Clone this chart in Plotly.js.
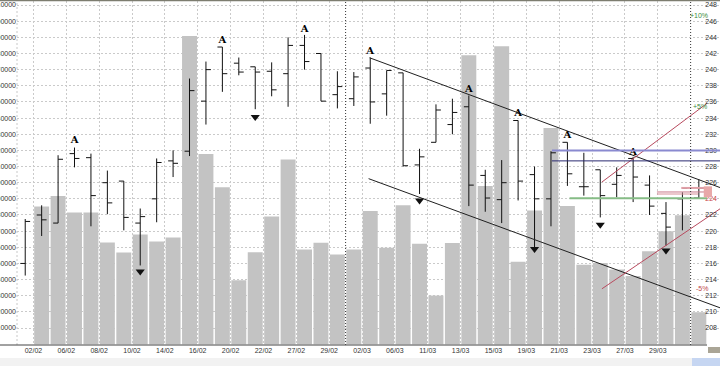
<!DOCTYPE html>
<html>
<head>
<meta charset="utf-8">
<script src="https://cdn.plot.ly/plotly-3.0.1.min.js"></script>
<style>
html,body{margin:0;padding:0;background:#fff;}
#chart{width:720px;height:366px;}
</style>
</head>
<body>
<div id="chart"></div>
<script>
// ---- data ----
const dates = ['02/02','06/02','08/02','10/02','14/02','16/02','20/02','22/02','27/02','29/02',
               '02/03','06/03','11/03','13/03','15/03','19/03','21/03','23/03','27/03','29/03'];

const opens  = [216.0,222.0,221.0,229.6,229.1,226.0,226.2,221.0,224.0,228.7,
                229.9,236.1,242.8,240.8,240.35,239.8,239.5,243.0,242.0,236.9,
                236.4,240.2,237.0,239.6,228.2,231.0,233.2,235.4,226.9,223.9,
                233.7,227.0,224.0,231.0,225.5,227.6,225.8,229.0,225.7,222.2,
                224.0,224.1];
const highs  = [221.5,223.2,229.4,230.35,229.6,227.5,226.2,222.8,229.0,230.0,
                238.9,241.0,242.8,241.5,240.35,240.9,244.0,244.3,242.0,239.8,
                239.7,241.5,239.9,239.6,230.2,235.7,236.4,236.8,227.6,228.8,
                233.7,228.0,229.9,231.0,229.7,227.6,227.9,229.2,226.9,223.6,
                224.8,226.4];
const lows   = [214.5,219.4,221.0,227.9,220.6,222.1,220.1,215.75,221.1,226.7,
                229.3,233.2,237.25,239.3,235.1,236.7,235.4,240.0,236.1,235.2,
                235.5,233.3,234.3,228.0,224.6,231.0,232.0,223.1,222.4,221.0,
                223.8,217.7,220.6,225.6,224.4,221.7,224.2,223.6,222.0,218.2,
                220.1,224.0];
const closes = [221.2,221.4,228.9,229.0,224.4,223.5,221.7,221.8,228.5,228.4,
                237.4,240.0,239.5,239.7,239.7,237.5,243.0,241.0,236.1,237.9,
                239.1,236.0,239.9,228.1,229.2,235.0,234.7,225.7,224.1,226.0,
                226.2,224.0,229.7,227.1,225.5,224.4,226.9,226.7,223.1,220.5,
                225.3,225.3];
const volumes = [null,85300,91700,81600,81600,63000,56800,67900,63600,66100,
                 190900,117700,97100,39600,57000,79100,114400,58600,62800,55500,
                 58600,82400,59700,86100,62200,30100,62600,178900,97900,184500,
                 51000,82800,133800,85500,49200,50200,46200,42300,57600,70000,
                 79900,19800];

const upFractalIdx    = [3,12,17,21,27,30,33,37];
const upFractalPrice  = [231.2,243.6,245.0,242.3,237.55,234.6,231.8,229.8];
const downFractalIdx   = [7,14,24,31,35,39];
const downFractalPrice = [215.0,234.15,223.8,217.8,220.8,217.6];

// analysis lines (day index, price)
const resistX = [20.96, 42.3],  resistY = [241.47, 225.39];
const supportX = [20.9, 42.3],  supportY = [226.5, 210.5];
const chanUpX = [35.1, 41.49],  chanUpY = [226.08, 235.81];
const chanLoX = [35.1, 42.3],   chanLoY = [212.86, 222.78];
const levelBlue = 230.0, levelNavy = 228.7, levelStart = 32.06;
const levelGreen = 224.06, greenStart = 33.13, greenEnd = 41.5;
const lastPrice = 224;

const volTicks = [10000,20000,30000,40000,50000,60000,70000,80000,90000,100000,
                  110000,120000,130000,140000,150000,160000,170000,180000,190000,200000,210000];
const priceTicks = [206,208,210,212,214,216,218,220,222,224,226,228,230,232,234,236,238,240,242,244,246,248];

// ---- build ----
const idx = opens.map((_, i) => i);
const font = 'Liberation Sans, Arial, sans-serif';
const txt = '#333333';

const traces = [
  { type:'bar', x: idx, y: volumes, yaxis:'y', xaxis:'x',
    marker:{color:'#c3c3c3', line:{width:0}}, hoverinfo:'skip' },
  { type:'ohlc', x: idx, open: opens, high: highs, low: lows, close: closes,
    xaxis:'x', yaxis:'y2', tickwidth:0.3,
    increasing:{line:{color:'#111111', width:1}},
    decreasing:{line:{color:'#111111', width:1}}, hoverinfo:'skip' },
  { type:'scatter', mode:'lines', x: resistX, y: resistY, yaxis:'y2',
    line:{color:'#202020', width:1}, hoverinfo:'skip' },
  { type:'scatter', mode:'lines', x: supportX, y: supportY, yaxis:'y2',
    line:{color:'#202020', width:1}, hoverinfo:'skip' },
  { type:'scatter', mode:'lines', x: chanUpX, y: chanUpY, yaxis:'y2',
    line:{color:'#b84a5e', width:1}, hoverinfo:'skip' },
  { type:'scatter', mode:'lines', x: chanLoX, y: chanLoY, yaxis:'y2',
    line:{color:'#b84a5e', width:1}, hoverinfo:'skip' },
  { type:'scatter', mode:'text', x: upFractalIdx, y: upFractalPrice, yaxis:'y2',
    text: upFractalIdx.map(() => 'A'), cliponaxis:false,
    textfont:{family:'DejaVu Serif', size:10, color:'#000000', weight:'bold'}, hoverinfo:'skip' },
  { type:'scatter', mode:'markers', x: downFractalIdx, y: downFractalPrice, yaxis:'y2',
    marker:{symbol:'triangle-down', size:8, color:'#111111'}, hoverinfo:'skip' }
];

const L = 17, R = 0, T = 1, B = 21;
const plotW = 720 - L - R, plotH = 366 - T - B;
const pxX = px => (px - L) / plotW;          // page px -> paper x
const pxY = py => (366 - B - py) / plotH;    // page px -> paper y

const shapes = [
  // horizontal levels
  { type:'line', xref:'x', yref:'y2', x0:levelStart, x1:42.3, y0:levelBlue, y1:levelBlue,
    line:{color:'#8a8ad0', width:2} },
  { type:'line', xref:'x', yref:'y2', x0:levelStart, x1:42.3, y0:levelNavy, y1:levelNavy,
    line:{color:'#2a2a70', width:1} },
  { type:'line', xref:'x', yref:'y2', x0:greenStart, x1:greenEnd, y0:levelGreen, y1:levelGreen,
    line:{color:'#86bc86', width:2} },
  // current price marks
  { type:'line', xref:'x', yref:'y2', x0:38.45, x1:40.96, y0:224.6, y1:224.6,
    line:{color:'#d89098', width:1} },
  { type:'line', xref:'x', yref:'y2', x0:38.45, x1:41.57, y0:224.85, y1:224.85,
    line:{color:'#c87888', width:1} },
  { type:'line', xref:'x', yref:'y2', x0:39.93, x1:41.57, y0:225.35, y1:225.35,
    line:{color:'#e0a0a8', width:2} },
  { type:'rect', xref:'x', yref:'y2', x0:41.3, x1:41.8, y0:224.19, y1:225.55,
    fillcolor:'#e8a8a8', line:{width:0} },
  // vertical dotted separators
  { type:'line', xref:'x', yref:'paper', x0:19.5, x1:19.5, y0:0, y1:1,
    line:{color:'#333333', width:1, dash:'1px,2px'} },
  { type:'line', xref:'x', yref:'paper', x0:40.5, x1:40.5, y0:0, y1:1,
    line:{color:'#333333', width:1, dash:'1px,2px'} },
  // left border
  { type:'line', xref:'paper', yref:'paper', x0:0, x1:0, y0:0, y1:1,
    line:{color:'#c8c8c8', width:1, dash:'2px,2px'} },
  // x axis line
  { type:'line', xref:'paper', yref:'paper', x0:pxX(0), x1:pxX(707), y0:0, y1:0,
    line:{color:'#444444', width:1} },
  // top frame line
  { type:'line', xref:'paper', yref:'paper', x0:pxX(0), x1:pxX(720), y0:pxY(0.5), y1:pxY(0.5),
    line:{color:'#7d7d70', width:1.5} },
  // bottom strip + widgets
  { type:'rect', xref:'paper', yref:'paper', x0:pxX(0), x1:pxX(720), y0:pxY(366), y1:pxY(358),
    fillcolor:'#f2f2f2', line:{width:0} },
  { type:'rect', xref:'paper', yref:'paper', x0:pxX(692), x1:pxX(720), y0:pxY(366), y1:pxY(358),
    fillcolor:'#c6d6f2', line:{width:0} },
  { type:'rect', xref:'paper', yref:'paper', x0:pxX(708), x1:pxX(720), y0:pxY(353), y1:pxY(347),
    fillcolor:'#aaa596', line:{width:0} }
];

const annotations = [
  { xref:'x', yref:'y2', x:41.0, y:246.7, text:'+10%', showarrow:false,
    font:{family:font, size:7, color:'#3c8c3c'} },
  { xref:'x', yref:'y2', x:41.08, y:235.4, text:'+5%', showarrow:false,
    font:{family:font, size:7, color:'#3c8c3c'} },
  { xref:'x', yref:'y2', x:41.2, y:212.9, text:'-5%', showarrow:false,
    font:{family:font, size:7, color:'#c04848'} }
];

const layout = {
  width:720, height:366,
  margin:{l:L, r:R, t:T, b:B, pad:0},
  paper_bgcolor:'#ffffff', plot_bgcolor:'#ffffff',
  showlegend:false, hovermode:false, bargap:0.09,
  font:{family:font, size:7, color:txt},
  xaxis:{
    type:'linear', range:[-0.5, -0.5 + plotW / 16.43],
    tickmode:'array', tickvals: dates.map((d, i) => 2 * i + 0.5), ticktext: dates,
    showgrid:true, gridcolor:'#cacaca', griddash:'2px,2px', gridwidth:1,
    zeroline:false, showline:false, ticks:'',
    tickfont:{family:font, size:7, color:txt},
    rangeslider:{visible:false}, fixedrange:true
  },
  yaxis:{
    range:[-500, 212500], side:'left',
    tickmode:'array', tickvals: volTicks, ticktext: volTicks.map(v => String(v)),
    showgrid:false, zeroline:false, showline:false, ticks:'',
    tickfont:{family:font, size:7, color:txt}, fixedrange:true
  },
  yaxis2:{
    overlaying:'y', side:'right', range:[205.9, 248.5],
    tickmode:'array', tickvals: priceTicks,
    ticktext: priceTicks.map(v => v === lastPrice ? '<span style="color:#c83c3c">' + v + '</span>' : String(v)),
    ticklabelposition:'inside',
    showgrid:true, gridcolor:'#cacaca', griddash:'2px,2px', gridwidth:1,
    zeroline:false, showline:false, ticks:'',
    tickfont:{family:font, size:7, color:txt}, fixedrange:true
  },
  shapes: shapes,
  annotations: annotations
};

Plotly.newPlot('chart', traces, layout, {displayModeBar:false, staticPlot:true});
</script>
</body>
</html>
